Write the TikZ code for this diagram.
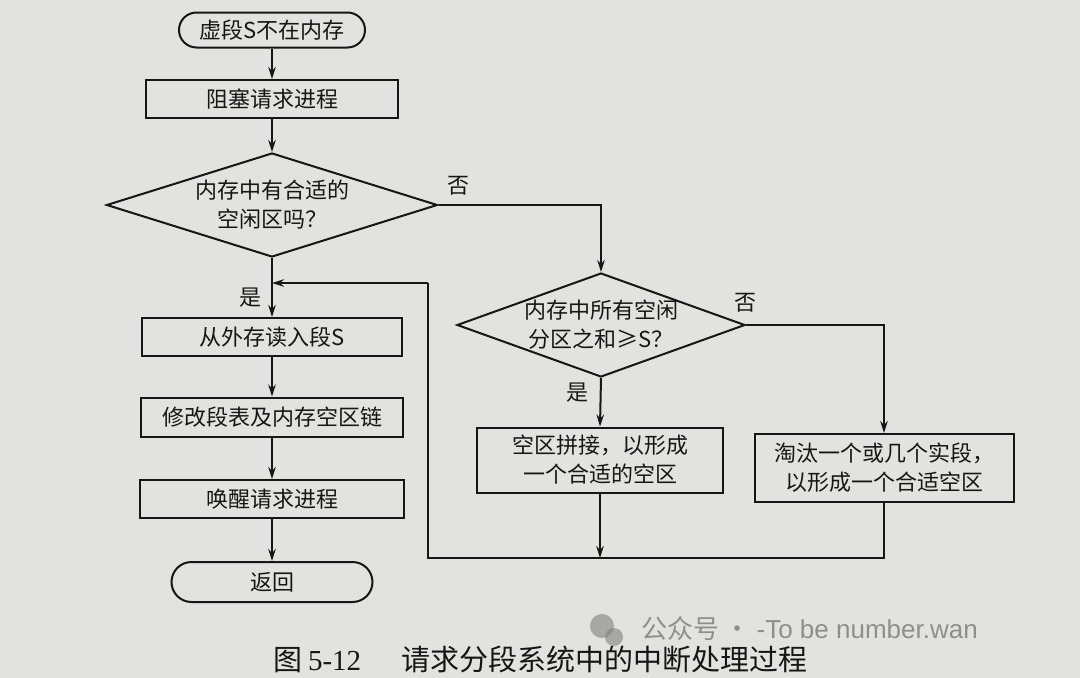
\documentclass[tikz,border=0pt]{standalone}
\usepackage{fontspec}
\setmainfont{Noto Sans CJK SC}
\newfontfamily\serifnum{Liberation Serif}
\newfontfamily\wmfont{Liberation Sans}
\usetikzlibrary{shapes.geometric,arrows.meta}
\definecolor{paper}{RGB}{226,227,224}
\definecolor{ink}{RGB}{22,22,22}
\definecolor{wmgray}{RGB}{128,128,128}
\tikzset{
  txtfont/.style={font=\fontsize{22}{29}\selectfont},
  term/.style={draw=ink, rectangle, inner sep=0pt, align=center, txtfont, text=ink},
  proc/.style={draw=ink, rectangle, inner sep=0pt, align=center, txtfont, text=ink},
  dia/.style={draw=ink, diamond, inner sep=0pt},
  dtxt/.style={inner sep=0pt, align=center, txtfont, text=ink},
  lbl/.style={inner sep=0pt, txtfont, text=ink},
  arr/.style={-{Stealth[length=12pt,width=7.5pt]}},
}
\begin{document}
\begin{tikzpicture}[x=1pt,y=-1pt,line width=2pt,draw=ink]
\fill[paper] (0,0) rectangle (1080,678);
\useasboundingbox (0,0) rectangle (1080,678);

% left column
\node[term, minimum width=186pt, minimum height=35pt, rounded corners=17.5pt] (t1) at (272,30) {虚段S不在内存};
\node[proc, minimum width=252pt, minimum height=38pt] (b1) at (272,99) {阻塞请求进程};
\node[dia, minimum width=331pt, minimum height=104pt] (d1) at (272,205) {};
\node[dtxt] (d1t) at (d1.center) {内存中有合适的\\空闲区吗？};
\node[proc, minimum width=260pt, minimum height=38pt] (b2) at (272,337) {从外存读入段S};
\node[proc, minimum width=262pt, minimum height=39pt] (b3) at (272,417) {修改段表及内存空区链};
\node[proc, minimum width=264pt, minimum height=38pt] (b4) at (272,499) {唤醒请求进程};
\node[term, minimum width=201pt, minimum height=40pt, rounded corners=20pt] (t2) at (272,582) {返回};

% right part
\node[dia, minimum width=288pt, minimum height=104pt] (d2) at (601,325) {};
\node[dtxt] (d2t) at (d2.center) {内存中所有空闲\\分区之和≥S？};
\node[proc, minimum width=246pt, minimum height=65pt] (b5) at (600,460) {空区拼接，以形成\\一个合适的空区};
\node[proc, minimum width=259pt, minimum height=68pt] (b6) at (884,468) {淘汰一个或几个实段，\\以形成一个合适空区};

% helper coordinates
\coordinate (lc) at (428,283);
\coordinate (m) at (d1.south |- lc);
\coordinate (jy) at (0,558);

% connectors
\draw[arr] (t1) -- (b1);
\draw[arr] (b1) -- (d1);
\draw[arr] (d1.south) -- (b2.north);
\draw[arr] (lc) -- (m);
\draw[arr] (b2) -- (b3);
\draw[arr] (b3) -- (b4);
\draw[arr] (b4) -- (t2);
\draw[arr] (d1.east) -| (d2.north);
\draw[arr] (d2.east) -| (b6.north);
\draw[arr] (d2.south) -- (b5.north);
\draw[arr] (b5.south) -- (b5.south |- jy);
\draw (b6.south) |- (lc |- jy) -- (lc);

% labels
\node[lbl] (no1) at (458,186) {否};
\node[lbl] (yes1) at (250,298) {是};
\node[lbl] (no2) at (745,303) {否};
\node[lbl] (yes2) at (577,393) {是};

% caption
\node[anchor=west, inner sep=0pt, text=ink, font=\fontsize{29}{31}\selectfont] (cap) at (272,659) {图\hspace{6pt}{\serifnum 5-12}\hspace{40pt}请求分段系统中的中断处理过程};

% watermark
\fill[wmgray, opacity=0.6] (602,626) circle (12pt);
\fill[wmgray, opacity=0.6] (614,637) circle (9pt);
\node[anchor=west, inner sep=0pt, text=wmgray, opacity=0.85, font=\fontsize{26}{28}\selectfont] (wm) at (640,629) {公众号 · {\wmfont -To be number.wan}};
\end{tikzpicture}
\end{document}
